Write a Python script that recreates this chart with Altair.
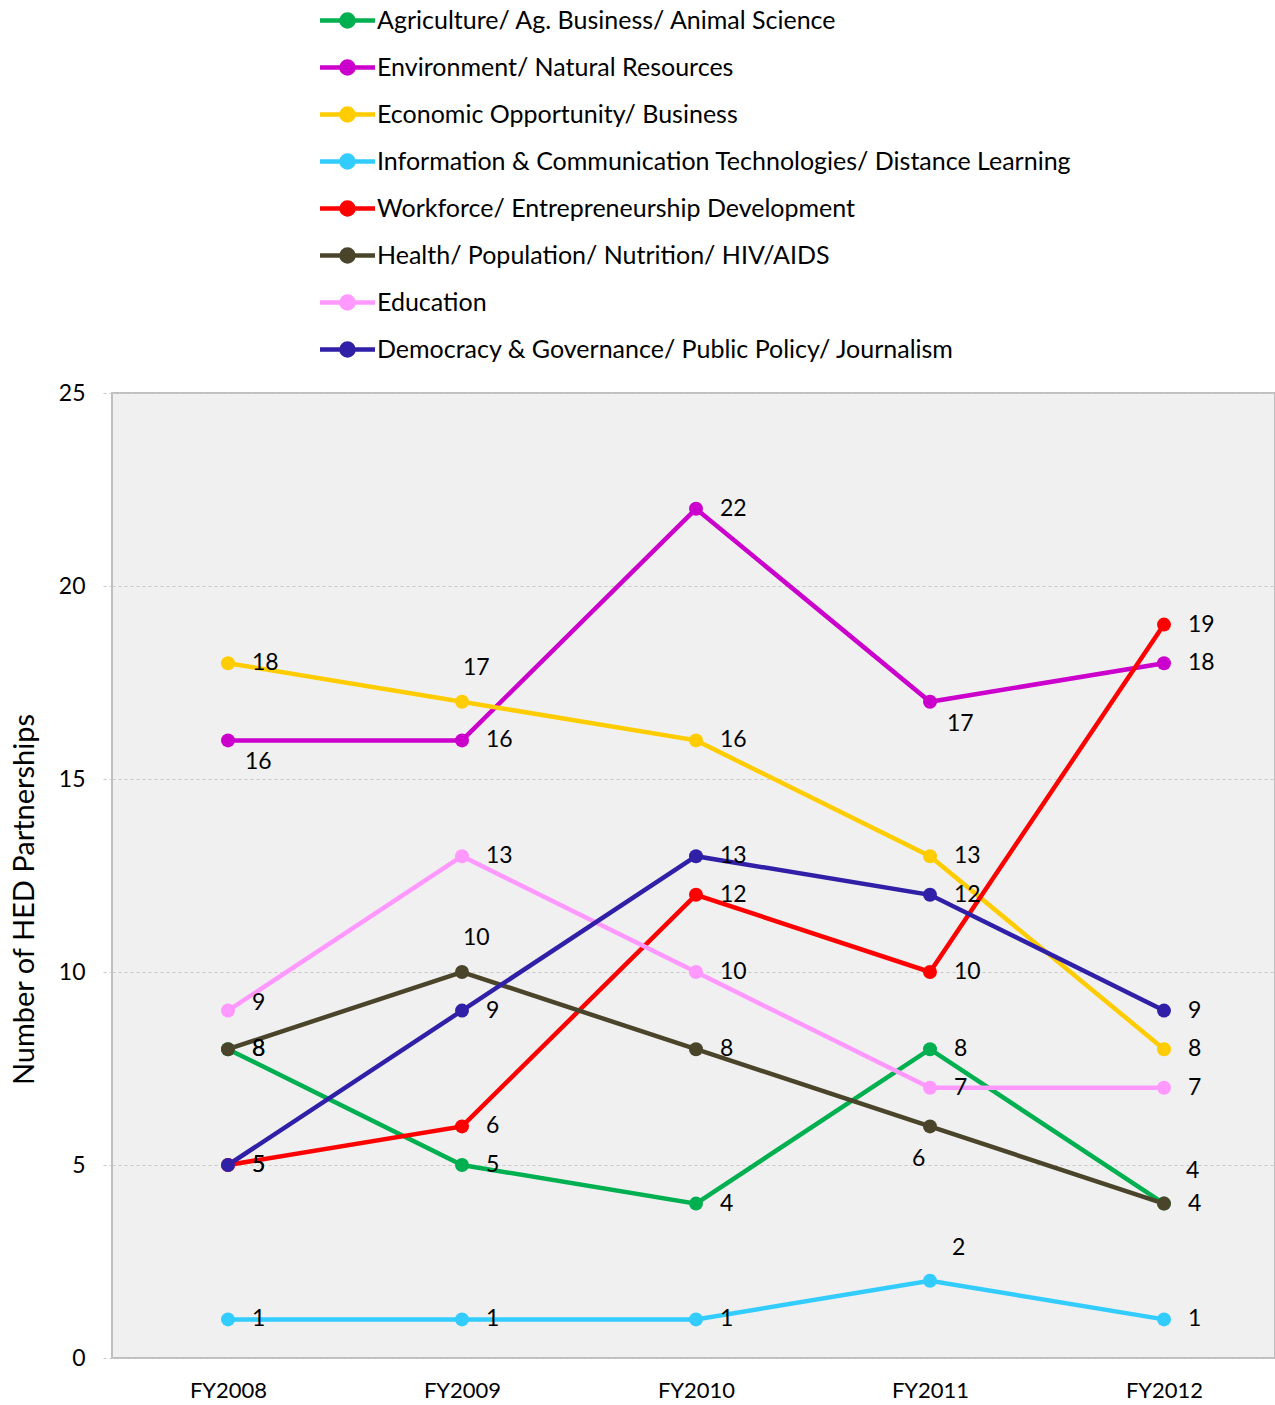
import altair as alt
import pandas as pd

# Fiscal years on the x axis
years = ["FY2008", "FY2009", "FY2010", "FY2011", "FY2012"]

# Sector names, in legend / drawing order
sectors = [
    "Agriculture/ Ag. Business/ Animal Science",
    "Environment/ Natural Resources",
    "Economic Opportunity/ Business",
    "Information & Communication Technologies/ Distance Learning",
    "Workforce/ Entrepreneurship Development",
    "Health/ Population/ Nutrition/ HIV/AIDS",
    "Education",
    "Democracy & Governance/ Public Policy/ Journalism",
]

colors = [
    "#00b050",
    "#cc00cc",
    "#ffcc00",
    "#33ccff",
    "#ff0000",
    "#4a452a",
    "#ff99ff",
    "#3020a8",
]

# Number of HED partnerships per sector and year
agriculture = [8, 5, 4, 8, 4]
environment = [16, 16, 22, 17, 18]
economic = [18, 17, 16, 13, 8]
ict = [1, 1, 1, 2, 1]
workforce = [5, 6, 12, 10, 19]
health = [8, 10, 8, 6, 4]
education = [9, 13, 10, 7, 7]
democracy = [5, 9, 13, 12, 9]

series_values = [agriculture, environment, economic, ict,
                 workforce, health, education, democracy]

# Where each value label sits relative to its point
# r = right, ur = slightly up-right, a = above, ar = above-right,
# b = below-right, bl = below-left
label_side = [
    ["r", "r", "r", "r", "ar"],
    ["b", "r", "r", "b", "r"],
    ["r", "a", "r", "r", "r"],
    ["r", "r", "r", "ar", "r"],
    ["r", "r", "r", "r", "r"],
    ["r", "a", "r", "bl", "r"],
    ["ur", "r", "r", "r", "r"],
    ["r", "r", "r", "r", "r"],
]

rows = []
for s, vals, sides in zip(sectors, series_values, label_side):
    for i, (yr, v, sd) in enumerate(zip(years, vals, sides)):
        rows.append({"sector": s, "year": yr, "idx": i, "value": v, "side": sd})
df = pd.DataFrame(rows)

FONT = "Lato"
PLOT_W = 1163
PLOT_H = 965

# Years are placed by their position index; the axis prints the year names
year_label_expr = "[" + ",".join("'%s'" % y for y in years) + "][datum.value]"

x_enc = alt.X(
    "idx:Q",
    scale=alt.Scale(domain=[-0.4957, 4.4744], nice=False, zero=False),
    axis=alt.Axis(
        title=None,
        values=list(range(len(years))),
        labelExpr=year_label_expr,
        labelFontSize=22,
        labelColor="#000000",
        labelPadding=22,
        ticks=False,
        domain=False,
        grid=False,
        labelAngle=0,
        labelFont=FONT,
    ),
)

y_enc = alt.Y(
    "value:Q",
    scale=alt.Scale(domain=[0, 25], nice=False),
    axis=alt.Axis(
        title="Number of HED Partnerships",
        titleFontSize=29,
        titleFontWeight="normal",
        titleColor="#000000",
        titleFont=FONT,
        titleX=-88,
        titleY=506,
        titleAngle=-90,
        titleAlign="center",
        titleBaseline="middle",
        values=[0, 5, 10, 15, 20, 25],
        labelFontSize=23,
        labelColor="#000000",
        labelFont=FONT,
        labelPadding=18,
        tickSize=9,
        tickColor="#c8c8c8",
        tickDash=[3, 3],
        domain=False,
        grid=True,
        gridColor="#c8c8c8",
        gridDash=[3, 3],
        gridWidth=1,
    ),
)

color_scale = alt.Scale(domain=sectors, range=colors)

# Legend glyph: a line segment with a filled dot in its middle
legend_path = (
    "M-2.75,0L2.75,0"
    "M-0.6,0A0.6,0.6 0 1,0 0.6,0A0.6,0.6 0 1,0 -0.6,0"
    "M-0.3,0A0.3,0.3 0 1,0 0.3,0A0.3,0.3 0 1,0 -0.3,0"
    "M-0.1,0A0.1,0.1 0 1,0 0.1,0A0.1,0.1 0 1,0 -0.1,0"
)

lines = alt.Chart(df).mark_line(strokeWidth=4.5).encode(
    x=x_enc,
    y=y_enc,
    color=alt.Color(
        "sector:N",
        scale=color_scale,
        sort=sectors,
        legend=alt.Legend(
            title=None,
            orient="none",
            legendX=223,
            legendY=-385,
            direction="vertical",
            symbolType=legend_path,
            symbolSize=400,
            symbolStrokeWidth=4.5,
            labelFontSize=25,
            labelFont=FONT,
            labelColor="#000000",
            labelLimit=900,
            labelOffset=17,
            rowPadding=16,
        ),
    ),
    detail="sector:N",
)

points = alt.Chart(df).mark_circle(size=195, opacity=1).encode(
    x=x_enc,
    y=y_enc,
    color=alt.Color("sector:N", scale=color_scale, legend=None),
)

offsets = {
    "r": (24, 0),
    "ur": (24, -8),
    "a": (1, -34),
    "ar": (22, -33),
    "b": (17, 22),
    "bl": (-18, 33),
}

label_layers = []
for side, (dx, dy) in offsets.items():
    label_layers.append(
        alt.Chart(df)
        .transform_filter(alt.datum.side == side)
        .mark_text(
            align="left",
            baseline="middle",
            dx=dx,
            dy=dy,
            fontSize=23,
            font=FONT,
            color="#000000",
        )
        .encode(x=x_enc, y=y_enc, text="value:Q")
    )

chart = (
    alt.layer(lines, points, *label_layers)
    .properties(
        width=PLOT_W,
        height=PLOT_H,
        autosize=alt.AutoSizeParams(type="none"),
        padding={"left": 112, "top": 393, "right": 0, "bottom": 47},
        background="#ffffff",
    )
    .configure_view(fill="#f0f0f0", stroke="#bfbfbf", strokeWidth=2)
)

chart.save("out.html", embed_options={"renderer": "svg", "actions": False})
